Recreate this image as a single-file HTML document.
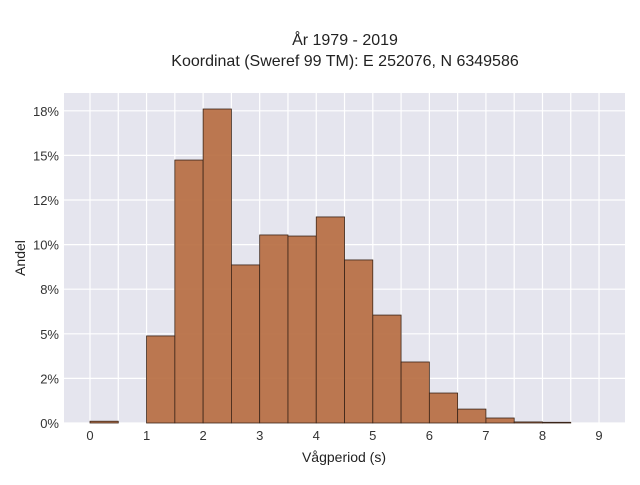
<!DOCTYPE html>
<html><head><meta charset="utf-8"><style>
body{margin:0;background:#fff;font-family:"Liberation Sans",sans-serif;}
</style></head><body>
<svg id="chart" width="640" height="480" xmlns="http://www.w3.org/2000/svg">
<rect x="0" y="0" width="640" height="480" fill="#fff"/>
<text x="345" y="45" text-anchor="middle" font-size="16" fill="#222">År 1979 - 2019</text>
<text x="345" y="66" text-anchor="middle" font-size="16" fill="#222">Koordinat (Sweref 99 TM): E 252076, N 6349586</text>
<rect x="64" y="93" width="561" height="330" fill="#e5e5ee"/>
<g id="grid"></g>
<g id="bars"></g>
<g id="xticks"></g>
<g id="yticks"></g>
<text x="344" y="462" text-anchor="middle" font-size="14" fill="#222">Vågperiod (s)</text>
<text x="0" y="0" transform="translate(25,258) rotate(-90)" text-anchor="middle" font-size="14" fill="#222">Andel</text>
</svg>
<script>
const binStarts=[0,0.5,1,1.5,2,2.5,3,3.5,4,4.5,5,5.5,6,6.5,7,7.5,8,8.5];
const shares=[0.1,0,4.88,14.74,17.6,8.86,10.54,10.48,11.55,9.14,6.05,3.42,1.68,0.78,0.28,0.06,0.04,0];
const xTicks=[0,1,2,3,4,5,6,7,8,9];
const yTicks=[0,2.5,5,7.5,10,12.5,15,17.5];
const yTickLabels=["0%","2%","5%","8%","10%","12%","15%","18%"];
const binWidth=0.5;
const ns="http://www.w3.org/2000/svg";
function X(v){return 90+v*56.56;}
function Y(v){return 423-v*17.84;}
function mk(t,a,p){const e=document.createElementNS(ns,t);for(const k in a)e.setAttribute(k,a[k]);p.appendChild(e);return e;}
const grid=document.getElementById('grid');
for(let v=-0.5;v<=9.5;v+=0.5){const l=mk('line',{x1:X(v),x2:X(v),y1:93,y2:423,stroke:'#fff','stroke-width':1.2},grid);

}
yTicks.forEach(v=>{const l=mk('line',{x1:64,x2:625,y1:Y(v),y2:Y(v),stroke:'#fff','stroke-width':1.2},grid);

});
const bars=document.getElementById('bars');
binStarts.forEach((b,i)=>{if(shares[i]<=0)return;const r=mk('rect',{x:X(b),y:Y(shares[i]),width:X(b+binWidth)-X(b),height:Y(0)-Y(shares[i]),fill:'#b66a3e','fill-opacity':0.9,stroke:'#3a2418','stroke-width':0.8},bars);

});
const xt=document.getElementById('xticks');
xTicks.forEach(v=>{const t=mk('text',{x:X(v),y:440,'text-anchor':'middle','font-size':13,fill:'#333'},xt);t.textContent=v;

});
const yt=document.getElementById('yticks');
yTicks.forEach((v,i)=>{const t=mk('text',{x:59,y:Y(v)+5,'text-anchor':'end','font-size':13,fill:'#333'},yt);t.textContent=yTickLabels[i];

});
</script>
</body></html>
